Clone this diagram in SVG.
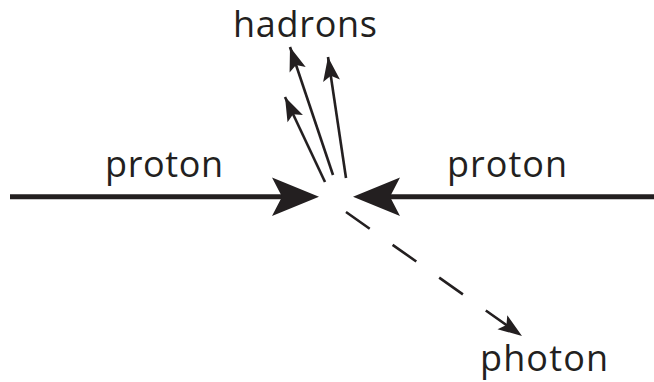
<svg xmlns="http://www.w3.org/2000/svg" width="654" height="382" viewBox="0 0 654 382">
<style>
.lbl{font-family:"Open Sans","Noto Sans",sans-serif;font-size:36px;fill:#231f20;}
.beam{stroke:#231f20;stroke-width:5;fill:none;}
.had{stroke:#231f20;stroke-width:2.6;fill:none;}
.ph{stroke:#231f20;stroke-width:2.6;fill:none;stroke-dasharray:29 28;}
.head{fill:#231f20;}
</style>
<defs>
<marker id="small" markerUnits="userSpaceOnUse" markerWidth="30" markerHeight="24" viewBox="-26 -12 30 24" refX="0" refY="0" orient="auto">
<path class="head" d="M0,0 L-24,-8.5 L-19,0 L-24,8.5 Z"/>
</marker>
</defs>
<rect width="654" height="382" fill="#ffffff"/>
<g id="connectors">
<g id="proton-left-beam">
<line class="beam" x1="10" y1="196.7" x2="285" y2="196.7"/>
<path class="head" d="M319,196.7 L272,177.5 L282,196.7 L272,216 Z"/>
</g>
<g id="proton-right-beam">
<line class="beam" x1="654" y1="196.7" x2="388" y2="196.7"/>
<path class="head" d="M353,196.7 L400,177.5 L390,196.7 L400,216 Z"/>
</g>
<g id="hadron-tracks">
<line class="had" x1="333" y1="175" x2="290" y2="47" marker-end="url(#small)"/>
<line class="had" x1="346" y1="178" x2="328" y2="57" marker-end="url(#small)"/>
<line class="had" x1="325" y1="182" x2="285" y2="97" marker-end="url(#small)"/>
</g>
<g id="photon-track">
<line class="ph" x1="346" y1="212" x2="522" y2="336" marker-end="url(#small)"/>
</g>
</g>
<g id="label-hadrons"><text class="lbl" x="305" y="37" text-anchor="middle" textLength="144">hadrons</text></g>
<g id="label-proton-left"><text class="lbl" x="164" y="177" text-anchor="middle" textLength="118">proton</text></g>
<g id="label-proton-right"><text class="lbl" x="507" y="177" text-anchor="middle" textLength="120">proton</text></g>
<g id="label-photon"><text class="lbl" x="544" y="371" text-anchor="middle" textLength="128">photon</text></g>
</svg>
